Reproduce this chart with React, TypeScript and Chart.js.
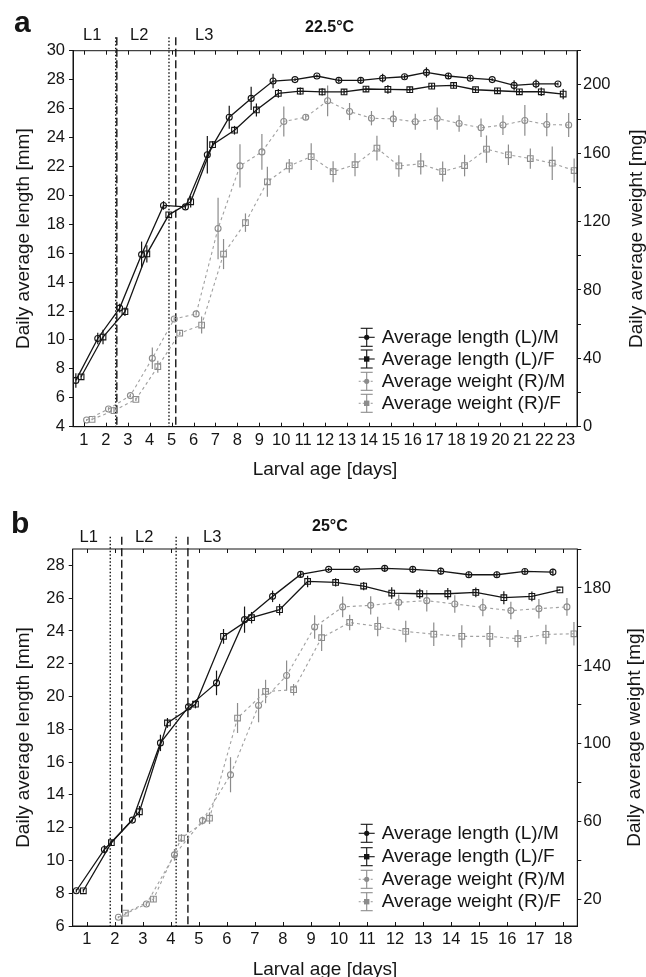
import React, { useEffect, useRef } from 'react';
import { Chart, registerables } from 'chart.js';

Chart.register(...registerables);

const FONT = '"Liberation Sans", Arial, Helvetica, sans-serif';
const INK = '#151515';
const LINE_GREY = '#a0a0a0';
const BAR_GREY = '#8c8c8c';

// ---------------- Shared text ----------------
const LEGEND_LABELS = ['Average length (L)/M', 'Average length (L)/F', 'Average weight (R)/M', 'Average weight (R)/F'];
const STAGE_LABELS = ['L1', 'L2', 'L3'];
const X_TITLE = 'Larval age [days]';
const Y_TITLE = 'Daily average length [mm]';
const Y1_TITLE = 'Daily average weight [mg]';
// position of each series within a day (days)
const SHIFT_LEN_M = -0.37;
const SHIFT_LEN_F = -0.13;
const SHIFT_WT_M = 0.12;
const SHIFT_WT_F = 0.37;

// ---------------- Panel a : 22.5 °C ----------------
const TEMP_A = '22.5°C';
const DAYS_A = [1, 2, 3, 4, 5, 6, 7, 8, 9, 10, 11, 12, 13, 14, 15, 16, 17, 18, 19, 20, 21, 22, 23];
const LEN_M_A = [7.2, 10.1, 12.2, 15.9, 19.3, 19.2, 22.8, 25.4, 26.7, 27.9, 28.0, 28.25, 27.95, 27.95, 28.1, 28.2, 28.5, 28.25, 28.1, 28.0, 27.6, 27.7, 27.7];
const LEN_M_A_SD = [0.5, 0.4, 0.3, 0.9, 0.3, 0.15, 1.3, 0.8, 0.8, 0.5, 0.1, 0.1, 0.15, 0.2, 0.3, 0.15, 0.35, 0.2, 0.15, 0.1, 0.35, 0.3, 0.1];
const LEN_F_A = [7.45, 10.2, 11.95, 15.95, 18.65, 19.55, 23.5, 24.5, 25.9, 27.05, 27.2, 27.15, 27.15, 27.35, 27.33, 27.3, 27.55, 27.6, 27.3, 27.23, 27.16, 27.16, 27.0];
const LEN_F_A_SD = [0.2, 0.5, 0.3, 0.6, 0.2, 0.4, 0.25, 0.3, 0.45, 0.3, 0.25, 0.25, 0.2, 0.2, 0.3, 0.2, 0.2, 0.2, 0.15, 0.2, 0.2, 0.3, 0.35];
const WT_M_A = [3.9, 10.4, 18.2, 40, 63, 66, 116, 152.6, 160.8, 178.6, 181.1, 190.7, 184.4, 180.5, 180.1, 178.4, 180.3, 177.4, 174.9, 176.5, 179.2, 176.8, 176.5];
const WT_M_A_SD = [0.5, 1, 1, 6.3, 1, 1, 18, 12.6, 10.4, 8.8, 1.5, 9, 5, 4.2, 4.8, 4.7, 6.5, 4.8, 5.4, 5.8, 9, 6.8, 7];
const WT_F_A = [4.3, 9.4, 16, 35.1, 54.7, 59.5, 101, 119.4, 143.3, 152.6, 158, 149.2, 153.3, 163, 152.6, 153.8, 149.3, 152.8, 162.4, 159.1, 156.9, 154.2, 149.9];
const WT_F_A_SD = [0.5, 2, 1, 3.5, 1, 5, 8.8, 5.4, 8.8, 4, 7.8, 6.1, 6.8, 7.3, 6.3, 6.3, 5.8, 6.3, 8, 6, 5.9, 9.8, 7];
const MOLT_DOT_A = [2.45, 4.88];
const MOLT_DASH_A = [2.5, 5.19];
const LEFT_TICKS_A = [4, 6, 8, 10, 12, 14, 16, 18, 20, 22, 24, 26, 28, 30];
const RIGHT_TICKS_A = [0, 20, 40, 60, 80, 100, 120, 140, 160, 180, 200, 220];
const RIGHT_LABELS_A = [0, 40, 80, 120, 160, 200];

// ---------------- Panel b : 25 °C ----------------
const TEMP_B = '25°C';
const DAYS_B = [1, 2, 3, 4, 5, 6, 7, 8, 9, 10, 11, 12, 13, 14, 15, 16, 17, 18];
const WT_DAYS_B = [2, 3, 4, 5, 6, 7, 8, 9, 10, 11, 12, 13, 14, 15, 16, 17, 18];
const LEN_M_B = [8.15, 10.67, 12.46, 17.17, 19.37, 20.83, 24.69, 26.11, 27.45, 27.76, 27.76, 27.82, 27.76, 27.65, 27.43, 27.43, 27.63, 27.59];
const LEN_M_B_SD = [0.1, 0.25, 0.1, 0.5, 0.1, 0.75, 0.8, 0.35, 0.2, 0.1, 0.1, 0.2, 0.2, 0.2, 0.2, 0.2, 0.15, 0.2];
const LEN_F_B = [8.15, 11.08, 12.97, 18.39, 19.53, 23.67, 24.81, 25.3, 27.02, 26.96, 26.74, 26.31, 26.27, 26.27, 26.35, 26.03, 26.11, 26.5];
const LEN_F_B_SD = [0.1, 0.15, 0.35, 0.3, 0.25, 0.45, 0.35, 0.35, 0.35, 0.25, 0.25, 0.35, 0.3, 0.35, 0.3, 0.4, 0.3, 0.05];
const WT_M_B = [11.1, 17.9, 43.1, 60.7, 84.2, 119.7, 135.1, 160, 170.3, 171.1, 172.6, 173.5, 171.8, 170, 168.4, 169.4, 170.3];
const WT_M_B_SD = [0.5, 1, 3, 2, 9, 8.6, 7.7, 6, 5.3, 4.7, 4, 5.5, 4.5, 4.5, 4.5, 5, 4.6];
const WT_F_B = [13.2, 20.4, 51.7, 61.9, 113.3, 126.9, 127.8, 154.5, 162.3, 160.3, 157.7, 156.3, 155.2, 155.2, 154, 156.2, 156.5];
const WT_F_B_SD = [0.5, 1.5, 2, 3, 7.7, 6, 3, 6.8, 4, 5, 5.5, 6, 5.7, 5.5, 4.5, 5, 6];
const MOLT_DOT_B = [1.84, 4.19];
const MOLT_DASH_B = [2.25, 4.61];
const LEFT_TICKS_B = [6, 8, 10, 12, 14, 16, 18, 20, 22, 24, 26, 28];
const RIGHT_TICKS_B = [20, 40, 60, 80, 100, 120, 140, 160, 180, 200];
const RIGHT_LABELS_B = [20, 60, 100, 140, 180];

type Series = {
  name: string; x: number[]; y: number[]; sd: number[]; shift: number;
  axis: 'y' | 'y1'; kind: 'len' | 'wt'; marker: 'circle' | 'rect';
};

type PanelSpec = {
  offset: number; height: number;
  top: number; bottom: number; left: number; right: number;
  xMin: number; xMax: number; xTicks: number[];
  yMin: number; yMax: number; yTicks: number[];
  y1Min: number; y1Max: number; y1Ticks: number[]; y1Labels: number[];
  letter: string; letterXY: [number, number];
  temp: string; tempXY: [number, number];
  stageXY: [number, number][];
  lineTop: number; dotted: number[]; dashed: number[];
  legendX: number; legendY: number[];
  xTitleY: number; yTitleX: number; y1TitleX: number;
  series: Series[];
};

const PANEL_A: PanelSpec = {
  offset: 0, height: 488,
  top: 50.7, bottom: 426.7, left: 73, right: 577,
  xMin: 0.5, xMax: 23.5, xTicks: DAYS_A,
  yMin: 4, yMax: 30, yTicks: LEFT_TICKS_A,
  y1Min: 0, y1Max: 220, y1Ticks: RIGHT_TICKS_A, y1Labels: RIGHT_LABELS_A,
  letter: 'a', letterXY: [14, 32],
  temp: TEMP_A, tempXY: [305, 32.3],
  stageXY: [[83, 40], [130, 40], [195, 40]],
  lineTop: 37.3, dotted: MOLT_DOT_A, dashed: MOLT_DASH_A,
  legendX: 366.7, legendY: [337.3, 359, 381.3, 403.3],
  xTitleY: 474.5, yTitleX: 28.6, y1TitleX: 641.5,
  series: [
    { name: LEGEND_LABELS[0], x: DAYS_A, y: LEN_M_A, sd: LEN_M_A_SD, shift: SHIFT_LEN_M, axis: 'y', kind: 'len', marker: 'circle' },
    { name: LEGEND_LABELS[1], x: DAYS_A, y: LEN_F_A, sd: LEN_F_A_SD, shift: SHIFT_LEN_F, axis: 'y', kind: 'len', marker: 'rect' },
    { name: LEGEND_LABELS[2], x: DAYS_A, y: WT_M_A, sd: WT_M_A_SD, shift: SHIFT_WT_M, axis: 'y1', kind: 'wt', marker: 'circle' },
    { name: LEGEND_LABELS[3], x: DAYS_A, y: WT_F_A, sd: WT_F_A_SD, shift: SHIFT_WT_F, axis: 'y1', kind: 'wt', marker: 'rect' },
  ],
};

const PANEL_B: PanelSpec = {
  offset: 488, height: 489,
  top: 61, bottom: 438, left: 72.7, right: 577.3,
  xMin: 0.5, xMax: 18.5, xTicks: DAYS_B,
  yMin: 6, yMax: 29, yTicks: LEFT_TICKS_B,
  y1Min: 6.6, y1Max: 200, y1Ticks: RIGHT_TICKS_B, y1Labels: RIGHT_LABELS_B,
  letter: 'b', letterXY: [11, 45.3],
  temp: TEMP_B, tempXY: [312, 42.7],
  stageXY: [[79.5, 53.7], [135, 53.7], [203, 53.7]],
  lineTop: 48.7, dotted: MOLT_DOT_B, dashed: MOLT_DASH_B,
  legendX: 366.7, legendY: [345.3, 368.7, 391.3, 413.7],
  xTitleY: 487, yTitleX: 28.6, y1TitleX: 640.3,
  series: [
    { name: LEGEND_LABELS[0], x: DAYS_B, y: LEN_M_B, sd: LEN_M_B_SD, shift: SHIFT_LEN_M, axis: 'y', kind: 'len', marker: 'circle' },
    { name: LEGEND_LABELS[1], x: DAYS_B, y: LEN_F_B, sd: LEN_F_B_SD, shift: SHIFT_LEN_F + 0.01, axis: 'y', kind: 'len', marker: 'rect' },
    { name: LEGEND_LABELS[2], x: WT_DAYS_B, y: WT_M_B, sd: WT_M_B_SD, shift: SHIFT_WT_M + 0.01, axis: 'y1', kind: 'wt', marker: 'circle' },
    { name: LEGEND_LABELS[3], x: WT_DAYS_B, y: WT_F_B, sd: WT_F_B_SD, shift: SHIFT_WT_F + 0.01, axis: 'y1', kind: 'wt', marker: 'rect' },
  ],
};

function seg(ctx: CanvasRenderingContext2D, x1: number, y1: number, x2: number, y2: number) {
  ctx.beginPath();
  ctx.moveTo(x1, y1);
  ctx.lineTo(x2, y2);
  ctx.stroke();
}

function makePlugin(p: PanelSpec) {
  return {
    id: 'panelDeco',
    beforeDatasetsDraw(chart: any) {
      const ctx: CanvasRenderingContext2D = chart.ctx;
      const xs = chart.scales.x;
      const area = chart.chartArea;
      ctx.save();
      // moult boundaries
      ctx.strokeStyle = INK;
      ctx.lineWidth = 1.4;
      ctx.setLineDash([1.5, 2]);
      p.dotted.forEach((d) => {
        const px = xs.getPixelForValue(d);
        seg(ctx, px, p.lineTop, px, area.bottom);
      });
      ctx.setLineDash([8, 3.5]);
      p.dashed.forEach((d) => {
        const px = xs.getPixelForValue(d);
        seg(ctx, px, p.lineTop, px, area.bottom);
      });
      ctx.setLineDash([]);
      // error bars
      p.series.forEach((s) => {
        const ys = chart.scales[s.axis];
        ctx.strokeStyle = s.kind === 'len' ? INK : BAR_GREY;
        ctx.lineWidth = 1.2;
        s.y.forEach((v, i) => {
          const e = s.sd[i];
          if (!e) return;
          const px = xs.getPixelForValue(s.x[i] + s.shift);
          seg(ctx, px, ys.getPixelForValue(v - e), px, ys.getPixelForValue(v + e));
        });
      });
      ctx.restore();
    },
    afterDraw(chart: any) {
      const ctx: CanvasRenderingContext2D = chart.ctx;
      const xs = chart.scales.x;
      const area = chart.chartArea;
      ctx.save();
      // frame
      ctx.strokeStyle = INK;
      ctx.lineWidth = 1;
      ctx.strokeRect(area.left, area.top, area.right - area.left, area.bottom - area.top);
      // inward ticks on top and bottom
      p.xTicks.forEach((d) => {
        const px = Math.round(xs.getPixelForValue(d)) + 0.5;
        seg(ctx, px, area.top, px, area.top + 4);
        seg(ctx, px, area.bottom, px, area.bottom - 4);
      });
      ctx.fillStyle = INK;
      ctx.textBaseline = 'alphabetic';
      ctx.textAlign = 'left';
      // panel letter
      ctx.font = `bold 30px ${FONT}`;
      ctx.fillText(p.letter, p.letterXY[0], p.letterXY[1]);
      // temperature
      ctx.font = `bold 16px ${FONT}`;
      ctx.fillText(p.temp, p.tempXY[0], p.tempXY[1]);
      // stage labels
      ctx.font = `16.5px ${FONT}`;
      STAGE_LABELS.forEach((t, i) => ctx.fillText(t, p.stageXY[i][0], p.stageXY[i][1]));
      // x title
      ctx.font = `19px ${FONT}`;
      ctx.textAlign = 'center';
      ctx.fillText(X_TITLE, (area.left + area.right) / 2, p.xTitleY);
      // y titles (both read bottom-to-top)
      const midY = (area.top + area.bottom) / 2;
      [[p.yTitleX, Y_TITLE], [p.y1TitleX, Y1_TITLE]].forEach(([bx, txt]) => {
        ctx.save();
        ctx.translate(bx as number, midY);
        ctx.rotate(-Math.PI / 2);
        ctx.fillText(txt as string, 0, 0);
        ctx.restore();
      });
      // legend
      ctx.textAlign = 'left';
      ctx.textBaseline = 'middle';
      p.series.forEach((s, i) => {
        const y = p.legendY[i];
        const x0 = p.legendX;
        const col = s.kind === 'len' ? INK : BAR_GREY;
        ctx.strokeStyle = col;
        ctx.lineWidth = 1.1;
        seg(ctx, x0, y - 9, x0, y + 9);
        seg(ctx, x0 - 6, y - 9, x0 + 6, y - 9);
        seg(ctx, x0 - 6, y + 9, x0 + 6, y + 9);
        ctx.setLineDash(s.kind === 'len' ? [] : [2, 2]);
        ctx.strokeStyle = s.kind === 'len' ? INK : LINE_GREY;
        seg(ctx, x0 - 8, y, x0 + 8, y);
        ctx.setLineDash([]);
        ctx.fillStyle = col;
        if (s.marker === 'circle') {
          ctx.beginPath();
          ctx.arc(x0, y, 2.6, 0, Math.PI * 2);
          ctx.fill();
        } else {
          ctx.fillRect(x0 - 2.7, y - 2.7, 5.4, 5.4);
        }
        ctx.fillStyle = INK;
        ctx.font = `19px ${FONT}`;
        ctx.fillText(s.name, x0 + 15, y + 0.5);
      });
      ctx.restore();
    },
  };
}

function buildConfig(p: PanelSpec): any {
  const datasets = p.series.map((s) => ({
    type: 'scatter',
    label: s.name,
    data: s.y.map((v, i) => ({ x: s.x[i] + s.shift, y: v })),
    yAxisID: s.axis,
    showLine: true,
    borderColor: s.kind === 'len' ? INK : LINE_GREY,
    borderWidth: s.kind === 'len' ? 1.3 : 1.1,
    borderDash: s.kind === 'len' ? [] : [3, 3],
    pointStyle: s.marker,
    pointRadius: s.marker === 'circle' ? 3 : 4,
    pointHoverRadius: s.marker === 'circle' ? 3 : 4,
    pointBorderWidth: 1.1,
    pointBorderColor: s.kind === 'len' ? INK : BAR_GREY,
    pointBackgroundColor: 'rgba(255,255,255,0)',
    tension: 0,
  }));
  const tickFont = { family: FONT, size: 16.5 };
  return {
    type: 'scatter',
    data: { datasets },
    plugins: [makePlugin(p)],
    options: {
      animation: false,
      responsive: false,
      devicePixelRatio: 1,
      layout: { padding: { top: p.top, left: 0, right: 0, bottom: 0 } },
      plugins: { legend: { display: false }, tooltip: { enabled: false }, title: { display: false } },
      scales: {
        x: {
          type: 'linear', position: 'bottom', min: p.xMin, max: p.xMax,
          afterBuildTicks: (sc: any) => { sc.ticks = p.xTicks.map((v) => ({ value: v })); },
          afterFit: (sc: any) => { sc.height = p.height - p.bottom; },
          grid: { display: true, drawOnChartArea: false, drawTicks: false },
          border: { display: true, color: INK, width: 1 },
          ticks: { color: INK, font: tickFont, padding: 4, autoSkip: false, maxRotation: 0, minRotation: 0, callback: (v: any) => String(v) },
        },
        y: {
          type: 'linear', position: 'left', min: p.yMin, max: p.yMax,
          afterBuildTicks: (sc: any) => { sc.ticks = p.yTicks.map((v) => ({ value: v })); },
          afterFit: (sc: any) => { sc.width = p.left; },
          grid: { display: true, drawOnChartArea: false, drawTicks: true, tickLength: 4, color: INK },
          border: { display: true, color: INK, width: 1 },
          ticks: { color: INK, font: tickFont, padding: 4, autoSkip: false, callback: (v: any) => String(v) },
        },
        y1: {
          type: 'linear', position: 'right', min: p.y1Min, max: p.y1Max,
          afterBuildTicks: (sc: any) => { sc.ticks = p.y1Ticks.map((v) => ({ value: v })); },
          afterFit: (sc: any) => { sc.width = 646 - p.right; },
          grid: { display: true, drawOnChartArea: false, drawTicks: true, tickLength: 4, color: INK },
          border: { display: true, color: INK, width: 1 },
          ticks: { color: INK, font: tickFont, padding: 2, autoSkip: false, callback: (v: any) => (p.y1Labels.includes(v) ? String(v) : '') },
        },
      },
    },
  };
}

function Panel({ spec }: { spec: PanelSpec }) {
  const ref = useRef<HTMLCanvasElement>(null);
  useEffect(() => {
    if (!ref.current) return;
    const chart = new Chart(ref.current, buildConfig(spec));
    return () => chart.destroy();
  }, [spec]);
  return (
    <canvas
      ref={ref}
      width={646}
      height={spec.height}
      style={{ position: 'absolute', left: 0, top: spec.offset, width: 646, height: spec.height, display: 'block' }}
    />
  );
}

export default function App() {
  return (
    <div style={{ position: 'absolute', left: 0, top: 0, width: 646, height: 977, background: '#ffffff', overflow: 'hidden' }}>
      <Panel spec={PANEL_A} />
      <Panel spec={PANEL_B} />
    </div>
  );
}
